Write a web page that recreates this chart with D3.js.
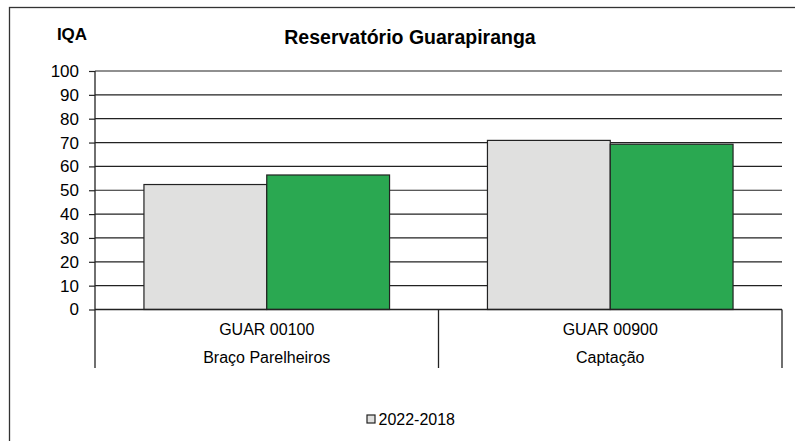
<!DOCTYPE html>
<html>
<head>
<meta charset="utf-8">
<script src="https://cdn.jsdelivr.net/npm/d3@7"></script>
<style>
  html, body { margin: 0; padding: 0; background: #fff; }
  svg { display: block; font-family: "Liberation Sans", Arial, sans-serif; }
</style>
</head>
<body>
<svg id="chart" width="795" height="441"></svg>
<script>
// Estações monitoradas no Reservatório Guarapiranga
const stations = ["GUAR 00100", "GUAR 00900"];
const locations = ["Braço Parelheiros", "Captação"];
const seriesNames = ["2022-2018", "2022"];
const meanIQA = [52.4, 70.9];   // média 2022-2018
const currentIQA = [56.4, 69.3]; // 2022
const yTicks = [0, 10, 20, 30, 40, 50, 60, 70, 80, 90, 100];
const seriesColors = ["#e0e0df", "#2aa851"];

const svg = d3.select("#chart");

const plot = { left: 95, right: 782, top: 71, bottom: 309.5, catBottom: 368 };

const y = d3.scaleLinear().domain([0, 100]).range([plot.bottom, plot.top]);
const x0 = d3.scaleBand().domain(stations).range([plot.left, plot.right]).padding(0);
const groupPad = 0.1425;
const x1 = d3.scaleBand().domain(seriesNames)
  .range([x0.bandwidth() * groupPad, x0.bandwidth() * (1 - groupPad)]).padding(0);

// outer frame
svg.append("rect")
  .attr("x", 9.5).attr("y", 7.5).attr("width", 820).attr("height", 460)
  .attr("fill", "none").attr("stroke", "#333").attr("stroke-width", 1.3);

// horizontal grid lines
svg.append("g")
  .selectAll("line").data(yTicks).join("line")
  .attr("x1", plot.left).attr("x2", plot.right)
  .attr("y1", d => y(d)).attr("y2", d => y(d))
  .attr("stroke", "#222").attr("stroke-width", 1.2);

// y axis
const yAxis = d3.axisLeft(y).tickValues(yTicks).tickSize(6).tickPadding(10);
const gy = svg.append("g").attr("transform", `translate(${plot.left},0)`).call(yAxis);
gy.select(".domain").remove();
gy.selectAll(".tick line").attr("stroke", "#222").attr("stroke-width", 1.2);
gy.selectAll(".tick text")
  .attr("font-size", 17).attr("fill", "#000")
  .attr("font-family", "Liberation Sans, Arial, sans-serif");

// bars
const data = stations.map((s, i) => ({ station: s, values: [meanIQA[i], currentIQA[i]] }));
const groups = svg.append("g").selectAll("g").data(data).join("g")
  .attr("transform", d => `translate(${x0(d.station)},0)`);
groups.selectAll("rect")
  .data(d => d.values.map((v, j) => ({ key: seriesNames[j], value: v, j })))
  .join("rect")
  .attr("x", d => x1(d.key))
  .attr("width", x1.bandwidth())
  .attr("y", d => y(d.value))
  .attr("height", d => y(0) - y(d.value))
  .attr("fill", d => seriesColors[d.j])
  .attr("stroke", "#222").attr("stroke-width", 1.2);

// axis lines and category dividers
const axisG = svg.append("g").attr("stroke", "#222").attr("stroke-width", 1.3);
axisG.append("line").attr("x1", plot.left).attr("x2", plot.left).attr("y1", plot.top).attr("y2", plot.catBottom);
axisG.append("line").attr("x1", plot.left).attr("x2", plot.right).attr("y1", y(0)).attr("y2", y(0));
const dividers = stations.map(s => x0(s) + x0.bandwidth());
axisG.selectAll(".div").data(dividers).join("line")
  .attr("x1", d => d).attr("x2", d => d)
  .attr("y1", y(0)).attr("y2", plot.catBottom);

// category labels
const labG = svg.append("g").attr("text-anchor", "middle").attr("font-size", 16).attr("fill", "#000");
labG.selectAll(".st").data(stations).join("text")
  .attr("x", d => x0(d) + x0.bandwidth() / 2).attr("y", 329).attr("dy", "0.35em")
  .text(d => d);
labG.selectAll(".loc").data(locations).join("text")
  .attr("x", (d, i) => x0(stations[i]) + x0.bandwidth() / 2).attr("y", 357).attr("dy", "0.35em")
  .text(d => d);

// title and axis name
svg.append("text").attr("x", 410).attr("y", 37).attr("dy", "0.35em")
  .attr("text-anchor", "middle").attr("font-weight", "bold").attr("font-size", 19.5)
  .text("Reservatório Guarapiranga");
svg.append("text").attr("x", 72).attr("y", 34).attr("dy", "0.35em")
  .attr("text-anchor", "middle").attr("font-weight", "bold").attr("font-size", 17)
  .text("IQA");

// legend (first series only)
const lg = svg.append("g").attr("transform", "translate(367,415)");
lg.append("rect").attr("width", 8).attr("height", 8)
  .attr("fill", seriesColors[0]).attr("stroke", "#222").attr("stroke-width", 1.2);
lg.append("text").attr("x", 11.5).attr("y", 4).attr("dy", "0.35em")
  .attr("font-size", 16).text(seriesNames[0]);
</script>
</body>
</html>
